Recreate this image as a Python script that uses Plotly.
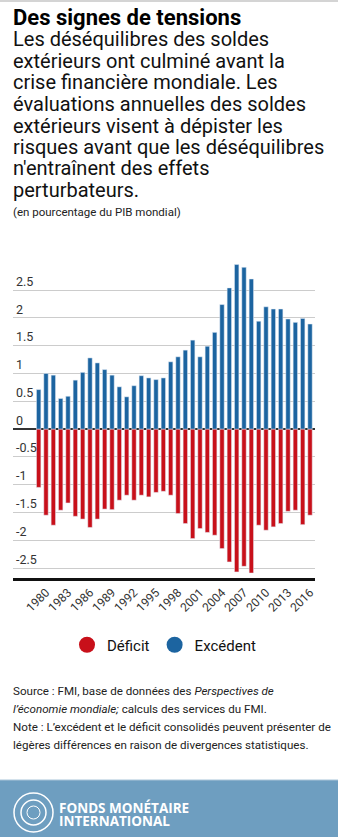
import plotly.graph_objects as go

# ---------------- data ----------------
years = list(range(1979, 2017))
surplus = [0.71, 1.00, 0.97, 0.55, 0.59, 0.88, 1.02, 1.28, 1.19, 1.07,
           0.97, 0.76, 0.58, 0.78, 0.96, 0.92, 0.89, 0.92, 1.21, 1.30,
           1.42, 1.60, 1.30, 1.49, 1.74, 2.24, 2.54, 2.96, 2.91, 2.70,
           1.94, 2.20, 2.16, 2.16, 1.98, 1.92, 1.99, 1.89]
deficit = [-1.05, -1.55, -1.73, -1.46, -1.33, -1.57, -1.62, -1.77, -1.62, -1.44,
           -1.45, -1.28, -1.19, -1.28, -1.19, -1.22, -1.14, -1.12, -1.19, -1.52,
           -1.70, -1.97, -1.79, -1.86, -1.91, -2.15, -2.39, -2.57, -2.47, -2.59,
           -1.73, -1.82, -1.76, -1.70, -1.48, -1.46, -1.72, -1.55]
x_tickvals = list(range(1980, 2017, 3))
x_ticktext = [str(y) for y in x_tickvals]
y_tickvals = [-2.5, -2, -1.5, -1, -0.5, 0, 0.5, 1, 1.5, 2, 2.5]
y_ticktext = ["-2.5", "-2", "-1.5", "-1", "-0.5", "0", "0.5", "1", "1.5", "2", "2.5"]

title = "Des signes de tensions"
subtitle_lines = [
    "Les déséquilibres des soldes",
    "extérieurs ont culminé avant la",
    "crise financière mondiale. Les",
    "évaluations annuelles des soldes",
    "extérieurs visent à dépister les",
    "risques avant que les déséquilibres",
    "n'entraînent des effets",
    "perturbateurs.",
]
unit_text = "(en pourcentage du PIB mondial)"
source_lines = [
    "Source : FMI, base de données des <i>Perspectives de</i>",
    "<i>l’économie mondiale;</i> calculs des services du FMI.",
    "Note : L’excédent et le déficit consolidés peuvent présenter de",
    "légères différences en raison de divergences statistiques.",
]
footer_lines = ["FONDS MONÉTAIRE", "INTERNATIONAL"]

BLUE = "#1c64a0"
RED = "#c8101a"
FONT = "Roboto"

# ---------------- layout geometry (pixels) ----------------
W, H = 338, 837
L, R, T, B = 13, 23, 264, 259
PW = W - L - R
PH = H - T - B


def px_x(px):
    return (px - L) / PW


def px_y(py):
    return (H - B - py) / PH


fig = go.Figure()
fig.add_trace(go.Bar(x=years, y=deficit, marker_color=RED, width=0.6,
                     showlegend=False, hoverinfo="skip"))
fig.add_trace(go.Bar(x=years, y=surplus, marker_color=BLUE, width=0.6,
                     showlegend=False, hoverinfo="skip"))
# legend entries (circles)
fig.add_trace(go.Scatter(x=[None], y=[None], mode="markers", name="Déficit",
                         marker=dict(color=RED, size=17, symbol="circle")))
fig.add_trace(go.Scatter(x=[None], y=[None], mode="markers", name="Excédent",
                         marker=dict(color=BLUE, size=17, symbol="circle")))

annotations = []
annotations.append(dict(text="<b>" + title + "</b>", x=px_x(11), y=px_y(17),
                        xref="paper", yref="paper", xanchor="left", yanchor="middle",
                        showarrow=False, font=dict(family=FONT, size=22, color="#000")))
sub_y = [39, 60.5, 82, 103.5, 125.5, 147, 168.5, 190]
for line, yy in zip(subtitle_lines, sub_y):
    annotations.append(dict(text=line, x=px_x(11), y=px_y(yy), xref="paper", yref="paper",
                            xanchor="left", yanchor="middle", showarrow=False,
                            font=dict(family=FONT, size=20, color="#111")))
annotations.append(dict(text=unit_text, x=px_x(11), y=px_y(212), xref="paper", yref="paper",
                        xanchor="left", yanchor="middle", showarrow=False,
                        font=dict(family=FONT, size=11.5, color="#222")))
src_y = [690.7, 708.5, 726.5, 744.5]
for line, yy in zip(source_lines, src_y):
    annotations.append(dict(text=line, x=px_x(11), y=px_y(yy), xref="paper", yref="paper",
                            xanchor="left", yanchor="middle", showarrow=False,
                            font=dict(family=FONT, size=11.6, color="#222")))
for line, yy in zip(footer_lines, [807.5, 821]):
    annotations.append(dict(text="<b>" + line + "</b>", x=px_x(57), y=px_y(yy),
                            xref="paper", yref="paper", xanchor="left", yanchor="middle",
                            showarrow=False,
                            font=dict(family="Open Sans", size=13.5, color="#fff")))

shapes = [
    # top light rule
    dict(type="rect", xref="paper", yref="paper", x0=px_x(0), x1=px_x(W),
         y0=px_y(0), y1=px_y(2), fillcolor="#d4d4d4", line_width=0, layer="below"),
    # footer band
    dict(type="rect", xref="paper", yref="paper", x0=px_x(0), x1=px_x(W),
         y0=px_y(780), y1=px_y(H + 2), fillcolor="#6e9ec0", line_width=0, layer="below"),
    dict(type="line", xref="paper", yref="paper", x0=px_x(0), x1=px_x(W),
         y0=px_y(780), y1=px_y(780), line=dict(color="#a9c4d8", width=1)),
    # logo rings
    dict(type="circle", xref="paper", yref="paper", x0=px_x(14), x1=px_x(53),
         y0=px_y(832), y1=px_y(793), line=dict(color="#ffffff", width=1.5)),
    dict(type="circle", xref="paper", yref="paper", x0=px_x(21), x1=px_x(46),
         y0=px_y(825), y1=px_y(800), line=dict(color="#ffffff", width=1.5)),
    dict(type="circle", xref="paper", yref="paper", x0=px_x(27), x1=px_x(40),
         y0=px_y(819), y1=px_y(806), line=dict(color="#ffffff", width=1)),
]

fig.update_layout(
    width=W, height=H,
    margin=dict(l=L, r=R, t=T, b=B, pad=0),
    paper_bgcolor="#ffffff", plot_bgcolor="#ffffff",
    barmode="relative", bargap=0.4,
    font=dict(family=FONT, color="#333"),
    showlegend=True,
    legend=dict(orientation="h", x=0.5, xanchor="center", y=px_y(645), yanchor="middle",
                font=dict(family=FONT, size=15, color="#111"), itemwidth=30,
                bgcolor="rgba(0,0,0,0)"),
    annotations=annotations,
    shapes=shapes,
    xaxis=dict(range=[1975.5, 2016.68], tickvals=x_tickvals, ticktext=x_ticktext,
               tickangle=-45, showgrid=False, zeroline=False,
               showline=True, linecolor="#111", linewidth=2.5,
               ticks="", tickfont=dict(family=FONT, size=12, color="#333"),
               fixedrange=True),
    yaxis=dict(range=[-2.68, 2.97], tickvals=y_tickvals, ticktext=y_ticktext,
               ticklabelposition="inside top", showgrid=True, gridcolor="#cccccc",
               gridwidth=1, zeroline=True, zerolinecolor="#333333", zerolinewidth=1.5,
               showline=False, ticks="", tickfont=dict(family=FONT, size=12.5, color="#333"),
               fixedrange=True),
)

fig.write_html("out.html", config={"displayModeBar": False})
